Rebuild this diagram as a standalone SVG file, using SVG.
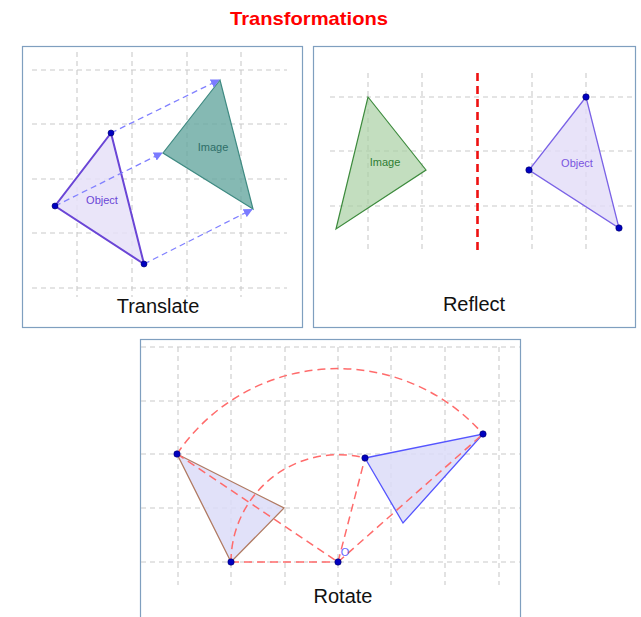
<svg xmlns="http://www.w3.org/2000/svg" width="641" height="617" viewBox="0 0 641 617">
<style>
.frame{fill:#fff;stroke:#7f9fbf;stroke-width:1.2}
.grid{stroke:#cacaca;stroke-width:1.1;stroke-dasharray:5 4;fill:none}
.lbl{font-family:"Liberation Sans",Arial,sans-serif;font-size:20px;fill:#111;text-anchor:middle}
.small{font-family:"Liberation Sans",Arial,sans-serif;font-size:11px;text-anchor:middle}
.pt{fill:#0000c0;stroke:#000066;stroke-width:0.6}
.arrow{stroke:#8080ff;stroke-width:1.3;stroke-dasharray:6 4;fill:none}
.rd{stroke:#ff6b6b;stroke-width:1.5;stroke-dasharray:8 5;fill:none}
</style>
<defs>
<marker id="ah" viewBox="0 0 10 10" refX="9" refY="5" markerWidth="9" markerHeight="9" markerUnits="userSpaceOnUse" orient="auto">
<path d="M0,0 L10,5 L0,10 z" fill="#7b7bff"/>
</marker>
</defs>
<rect width="641" height="617" fill="#fff"/>
<text x="309" y="25" font-family="'Liberation Sans',Arial,sans-serif" font-weight="bold" font-size="19" fill="#ff0000" text-anchor="middle" textLength="158" lengthAdjust="spacingAndGlyphs">Transformations</text>

<g id="translate">
<rect class="frame" x="22.5" y="46.5" width="280" height="281"/>
<path class="grid" d="M77,52V297M132,52V297M187,52V297M241,52V297M32,70H287M32,124H287M32,179H287M32,233H287M32,288H287"/>
<g id="t-image">
<polygon points="220,80 163,153 253,209" fill="#66a8a0" fill-opacity="0.8" stroke="#3f8a82" stroke-width="1.2"/>
<text class="small" x="213" y="151" fill="#2e6e68">Image</text>
</g>
<g id="t-object">
<polygon points="111,133 55,206 144,264" fill="#e6e0f8" fill-opacity="0.85" stroke="#6a45d6" stroke-width="2"/>
<text class="small" x="102" y="204" fill="#6a45d6">Object</text>
</g>
<g id="t-arrows">
<line class="arrow" x1="111" y1="133" x2="219" y2="80" marker-end="url(#ah)"/>
<line class="arrow" x1="55" y1="206" x2="162" y2="153" marker-end="url(#ah)"/>
<line class="arrow" x1="144" y1="264" x2="252" y2="209.5" marker-end="url(#ah)"/>
</g>
<circle class="pt" cx="111" cy="133" r="3"/>
<circle class="pt" cx="55" cy="206" r="3"/>
<circle class="pt" cx="144" cy="264" r="3"/>
<text class="lbl" x="158" y="313">Translate</text>
</g>

<g id="reflect">
<rect class="frame" x="313.5" y="46.5" width="322" height="281"/>
<path class="grid" d="M368,73V249M422,73V249M532,73V249M586,73V249M330,97H636M330,151H636M330,206H636"/>
<line x1="477.5" y1="73" x2="477.5" y2="250" stroke="#ee1111" stroke-width="2.6" stroke-dasharray="8 5"/>
<g id="r-image">
<polygon points="368,97 426,170 336,229" fill="#a9d0a4" fill-opacity="0.7" stroke="#3d8b3d" stroke-width="1.2"/>
<text class="small" x="385" y="166" fill="#2e7d32">Image</text>
</g>
<g id="r-object">
<polygon points="586,97 529,170 619,228" fill="#e2dcf8" fill-opacity="0.8" stroke="#7a62e6" stroke-width="1.3"/>
<text class="small" x="577" y="167" fill="#7a55e0">Object</text>
<circle class="pt" cx="586" cy="97" r="3.2"/>
<circle class="pt" cx="529" cy="170" r="3.2"/>
<circle class="pt" cx="619" cy="228" r="3.2"/>
</g>
<text class="lbl" x="474" y="311">Reflect</text>
</g>

<g id="rotate">
<rect class="frame" x="140.5" y="339.5" width="380" height="290"/>
<path class="grid" d="M178,347V585M231,347V585M285,347V585M338,347V585M391,347V585M445,347V585M499,347V585M141,347H520M141,401H520M141,454H520M141,508H520M141,562H520"/>
<g id="ro-left">
<polygon points="177,454 284,508 231,562" fill="#dcdcf8" fill-opacity="0.85" stroke="#b07a62" stroke-width="1.3"/>
</g>
<g id="ro-right">
<polygon points="365,458 483,434 403,523" fill="#dcdcf8" fill-opacity="0.85" stroke="#5555ff" stroke-width="1.3"/>
</g>
<g id="ro-connectors">
<path class="rd" d="M177,454 A194,194 0 0 1 483,434"/>
<path class="rd" d="M231,562 A107.4,107.4 0 0 1 365,458"/>
<line class="rd" x1="177" y1="454" x2="338" y2="562"/>
<line class="rd" x1="231" y1="562" x2="338" y2="562"/>
<line class="rd" x1="338" y1="562" x2="365" y2="458"/>
<line class="rd" x1="338" y1="562" x2="483" y2="434"/>
</g>
<circle class="pt" cx="177" cy="454" r="3.2"/>
<circle class="pt" cx="231" cy="562" r="3.2"/>
<circle class="pt" cx="338" cy="562" r="3.2"/>
<circle class="pt" cx="365" cy="458" r="3.2"/>
<circle class="pt" cx="483" cy="434" r="3.2"/>
<text class="small" x="345" y="556" fill="#6666ff">O</text>
<text class="lbl" x="343" y="603">Rotate</text>
</g>
</svg>
